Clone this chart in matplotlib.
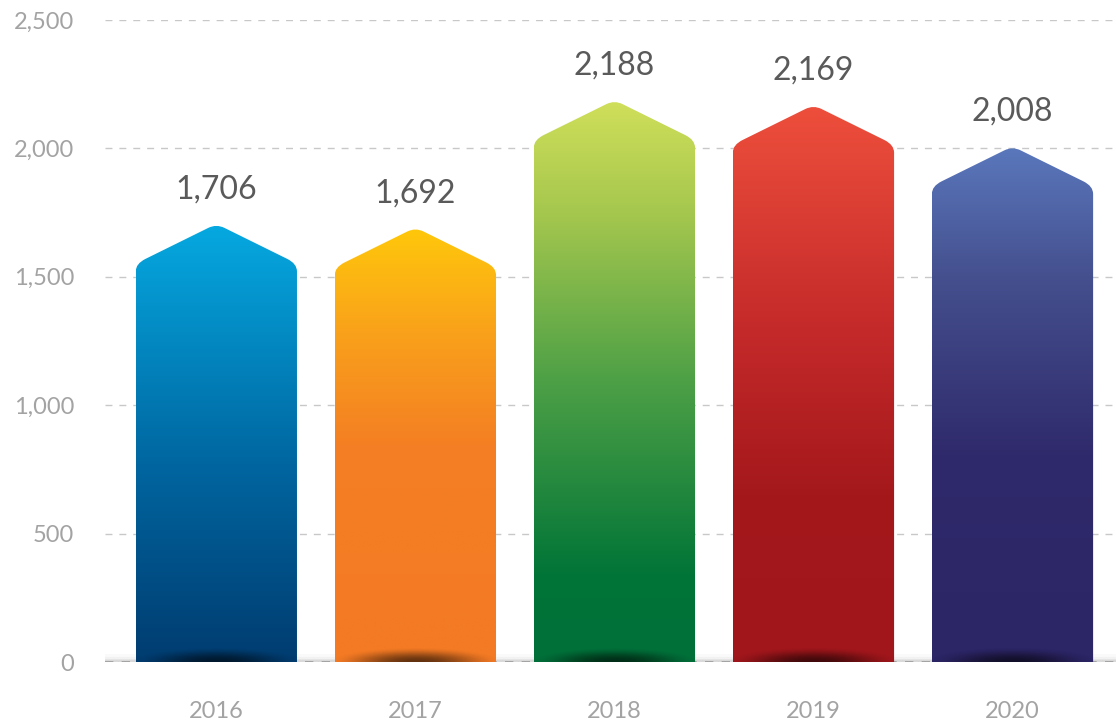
import numpy as np
import matplotlib
matplotlib.use("Agg")
import matplotlib.pyplot as plt
from matplotlib.path import Path
from matplotlib.patches import PathPatch
from matplotlib.colors import LinearSegmentedColormap

years = ["2016", "2017", "2018", "2019", "2020"]
values = [1706, 1692, 2188, 2169, 2008]

# gradient stops per bar, bottom (0) to top (1)
bar_colors = [
    [(0.0, "#003c70"), (0.45, "#0066a0"), (1.0, "#06a9e1")],
    [(0.0, "#f47a25"), (0.5, "#f47f23"), (0.75, "#f9a01b"), (1.0, "#ffc80b")],
    [(0.0, "#00703a"), (0.15, "#007437"), (0.5, "#4da046"), (0.8, "#a5c74e"), (1.0, "#d0df5a")],
    [(0.0, "#a0161b"), (0.3, "#a4181c"), (0.6, "#c52a2a"), (1.0, "#ee4f3c")],
    [(0.0, "#2c2566"), (0.4, "#2f2a6b"), (0.75, "#45508f"), (1.0, "#5a78bc")],
]

plt.rcParams["font.family"] = ["Lato", "DejaVu Sans"]

fig = plt.figure(figsize=(11.16, 7.27), dpi=100)
ax = fig.add_axes([0.094, 0.0894, 0.906, 0.8831])
ax.set_xlim(-0.56, 4.52)
ax.set_ylim(0, 2500)

width = 0.81
head = 155      # height of the arrow head in data units
ry = 30         # corner rounding, y units


def arrow_path(c, v):
    x0, x1 = c - width / 2, c + width / 2
    ys = v - head
    # points along the slanted edges for the rounded shoulders/tip
    f_sh, f_tip = 0.12, 0.10
    lsh = (x0 + (c - x0) * f_sh, ys + head * f_sh)
    ltip = (c - (c - x0) * f_tip, v - head * f_tip)
    rtip = (c + (x1 - c) * f_tip, v - head * f_tip)
    rsh = (x1 - (x1 - c) * f_sh, ys + head * f_sh)
    verts = [
        (x0, 0), (x0, ys - ry), (x0, ys), lsh,
        ltip, (c, v), rtip,
        rsh, (x1, ys), (x1, ys - ry),
        (x1, 0), (x0, 0),
    ]
    codes = [
        Path.MOVETO, Path.LINETO, Path.CURVE3, Path.CURVE3,
        Path.LINETO, Path.CURVE3, Path.CURVE3,
        Path.LINETO, Path.CURVE3, Path.CURVE3,
        Path.LINETO, Path.CLOSEPOLY,
    ]
    return Path(verts, codes)


# grid lines
for g in [500, 1000, 1500, 2000, 2500]:
    ax.axhline(g, color="#c8c8c8", lw=1, ls=(0, (5, 5)), zorder=1)

# soft shadow along the baseline
for k, a in zip([12, 8, 5, 3], [0.03, 0.05, 0.07, 0.10]):
    ax.axhline(0, color="#606060", lw=k, alpha=a, zorder=1)
ax.axhline(0, color="#9a9a9a", lw=1.2, ls=(0, (5, 5)), zorder=2)

for i, (v, stops) in enumerate(zip(values, bar_colors)):
    patch = PathPatch(arrow_path(i, v), facecolor="none", edgecolor="none", zorder=3)
    ax.add_patch(patch)
    cmap = LinearSegmentedColormap.from_list("bar%d" % i, stops)
    grad = np.linspace(0, 1, 256).reshape(-1, 1)
    im = ax.imshow(grad, cmap=cmap, origin="lower", aspect="auto",
                   extent=[i - width / 2, i + width / 2, 0, v], zorder=3,
                   interpolation="bilinear")
    im.set_clip_path(patch)

    # dark elliptical shading at the foot of the bar
    xs = np.linspace(-1, 1, 200)
    yy = np.linspace(0, 1, 60)
    X, Y = np.meshgrid(xs, yy)
    d = X ** 2 * 0.85 + Y ** 2
    alpha = np.clip(1 - d, 0, 1) ** 2 * 0.6
    shade = np.zeros((60, 200, 4))
    shade[..., 3] = alpha
    sh = ax.imshow(shade, origin="lower", aspect="auto",
                   extent=[i - width / 2, i + width / 2, 0, 55], zorder=4,
                   interpolation="bilinear")
    sh.set_clip_path(patch)

    ax.annotate("{:,}".format(v), (i, v), xytext=(0, 14), textcoords="offset points",
                ha="center", va="bottom", fontsize=23, color="#5a5a5a")

ax.set_yticks([0, 500, 1000, 1500, 2000, 2500])
ax.set_yticklabels(["0", "500", "1,000", "1,500", "2,000", "2,500"])
ax.set_xticks(range(len(years)))
ax.set_xticklabels(years)
ax.tick_params(axis="y", length=0, pad=22, labelsize=17, labelcolor="#a3a3a3")
ax.tick_params(axis="x", length=0, pad=28, labelsize=17, labelcolor="#a3a3a3")
for s in ax.spines.values():
    s.set_visible(False)

fig.savefig("out.png", dpi=100)
